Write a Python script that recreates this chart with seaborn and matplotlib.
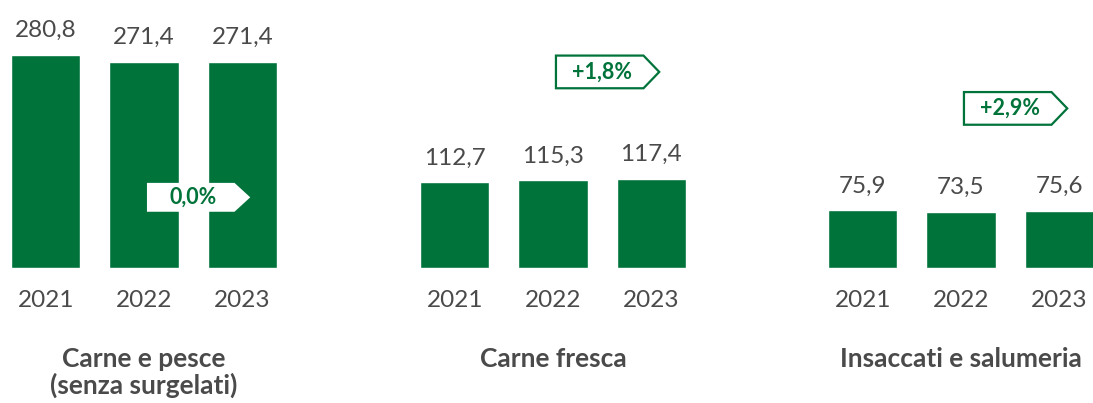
import matplotlib.pyplot as plt
import seaborn as sns
import pandas as pd
from matplotlib.patches import Polygon
plt.switch_backend('Agg')

years = ["2021", "2022", "2023"]
titles = ["Carne e pesce\n(senza surgelati)", "Carne fresca", "Insaccati e salumeria"]
carne_pesce = [280.8, 271.4, 271.4]
carne_fresca = [112.7, 115.3, 117.4]
insaccati = [75.9, 73.5, 75.6]
changes = ["0,0%", "+1,8%", "+2,9%"]

GREEN = "#00733A"
GREY = "#4A4A4A"

sns.set_theme(style="white")
plt.rcParams['font.family'] = ['Lato', 'DejaVu Sans']

fig = plt.figure(figsize=(10.93, 4.03), dpi=100)

# layout of the three panels (pixels) and badge placement (data units)
lefts = [11, 420, 828]
badge_y = [93, 258, 210]
badge_h = [38, 43, 43]
framed = [False, True, True]


def fmt(v):
    return f"{v:.1f}".replace(".", ",")


for i, vals in enumerate([carne_pesce, carne_fresca, insaccati]):
    ax = fig.add_axes([lefts[i] / 1093, 135 / 403, 266 / 1093, 228 / 403])
    df = pd.DataFrame({"year": years, "value": vals})
    sns.barplot(data=df, x="year", y="value", color=GREEN, saturation=1,
                width=0.704, ax=ax)
    ax.set_xlim(-0.352, 2.352)
    ax.set_ylim(0, 300)
    ax.bar_label(ax.containers[0], labels=[fmt(v) for v in vals], padding=10,
                 fontsize=17.5, color=GREY)
    sns.despine(ax=ax, left=True, bottom=True)
    ax.set_yticks([])
    ax.set_ylabel("")
    ax.tick_params(axis="x", length=0, pad=15.5, labelsize=17.5, labelcolor=GREY)
    ax.set_xlabel(titles[i], fontsize=19, fontweight="bold", color=GREY,
                  labelpad=26, linespacing=1.1)

    # arrow badge with the 2023 vs 2022 change
    yc, h = badge_y[i], badge_h[i]
    x0, x1, xt = 1.03, 1.92, 2.08
    pts = [(x0, yc - h / 2), (x1, yc - h / 2), (xt, yc), (x1, yc + h / 2), (x0, yc + h / 2)]
    ax.add_patch(Polygon(pts, closed=True, facecolor="white",
                         edgecolor=GREEN if framed[i] else "none", lw=1.6,
                         zorder=5, clip_on=False))
    ax.text(1.5, yc, changes[i], ha="center", va="center", fontsize=15.5,
            fontweight="bold", color=GREEN, zorder=6)

plt.savefig("out.png", dpi=100)
plt.close()
